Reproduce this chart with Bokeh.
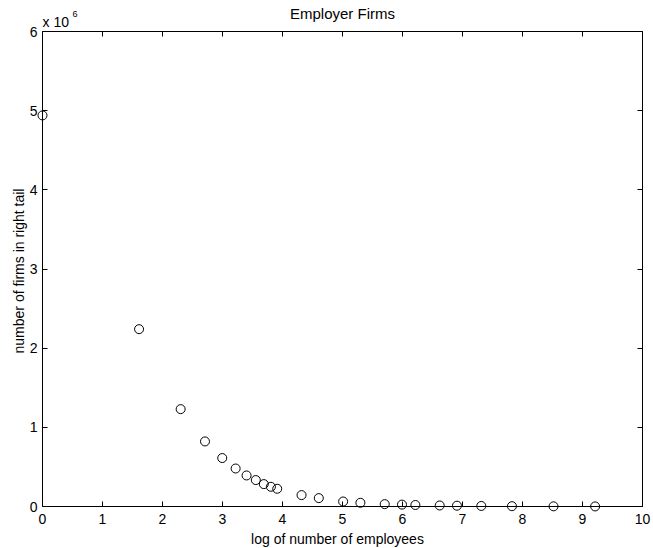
import numpy as np
from bokeh.plotting import figure
from bokeh.models import (LinearAxis, FixedTicker, CustomJSTickFormatter, Label,
                          ColumnDataSource, Range1d)
from bokeh.embed import file_html
from bokeh.resources import INLINE

# Employee-size thresholds of the right tail, and the number of employer
# firms with at least that many employees
employee_thresholds = [1, 5, 10, 15, 20, 25, 30, 35, 40, 45, 50, 75, 100,
                       150, 200, 300, 400, 500, 750, 1000, 1500, 2500, 5000, 10000]
firms_in_tail = [4.94e6, 2.24e6, 1.23e6, 0.822e6, 0.612e6, 0.480e6, 0.392e6,
                 0.334e6, 0.283e6, 0.249e6, 0.224e6, 0.144e6, 0.106e6, 0.063e6,
                 0.047e6, 0.030e6, 0.024e6, 0.019e6, 0.013e6, 0.010e6, 0.007e6,
                 0.004e6, 0.002e6, 0.001e6]
x_ticks = [0, 1, 2, 3, 4, 5, 6, 7, 8, 9, 10]
y_ticks = [0, 1e6, 2e6, 3e6, 4e6, 5e6, 6e6]
X_LIM = (0, 10)
Y_LIM = (0, 6e6)

FONT = "Liberation Sans"
W, H = 653, 548
# pixel box of the axes inside the page; the plotting frame covers the whole
# page so that markers on the box edge and all texts are drawn unclipped
BOX_LEFT, BOX_RIGHT, BOX_TOP, BOX_BOTTOM = 42, 642, 31, 506
ux = (X_LIM[1] - X_LIM[0]) / (BOX_RIGHT - BOX_LEFT)
uy = (Y_LIM[1] - Y_LIM[0]) / (BOX_BOTTOM - BOX_TOP)
x_range = Range1d(X_LIM[0] - BOX_LEFT * ux, X_LIM[1] + (W - BOX_RIGHT) * ux)
y_range = Range1d(Y_LIM[0] - (H - BOX_BOTTOM) * uy, Y_LIM[1] + BOX_TOP * uy)

source = ColumnDataSource(data=dict(
    logx=np.log(np.array(employee_thresholds, dtype=float)),
    firms=firms_in_tail,
))

p = figure(width=W, height=H, output_backend="svg", toolbar_location=None,
           x_range=x_range, y_range=y_range,
           min_border=0, min_border_left=0, min_border_right=0,
           min_border_top=0, min_border_bottom=0,
           x_axis_type=None, y_axis_type=None)
p.title.visible = False
p.grid.visible = False
p.outline_line_color = None
p.background_fill_color = "white"
p.border_fill_color = "white"

millions = CustomJSTickFormatter(code="return (tick / 1e6).toFixed(0);")
blank = CustomJSTickFormatter(code="return '';")


def make_axis(ticks, bounds, fixed, formatter=None, labelled=True):
    ax = LinearAxis(ticker=FixedTicker(ticks=ticks), bounds=bounds,
                    fixed_location=fixed)
    if formatter is not None:
        ax.formatter = formatter
    ax.axis_line_color = "black"
    ax.axis_line_width = 1
    ax.major_tick_line_color = "black"
    ax.major_tick_in = 5
    ax.major_tick_out = 0
    ax.minor_tick_line_color = None
    if labelled:
        ax.major_label_text_font = FONT
        ax.major_label_text_font_size = "14px"
        ax.major_label_text_color = "black"
    else:
        ax.major_label_text_font_size = "0px"
        ax.major_label_standoff = 0
    return ax


xb = make_axis(x_ticks, X_LIM, Y_LIM[0])
xb.major_label_standoff = 7
p.add_layout(xb, "below")

yl = make_axis(y_ticks, Y_LIM, X_LIM[0], formatter=millions)
yl.major_label_standoff = 5
p.add_layout(yl, "left")

xt = make_axis(x_ticks, X_LIM, Y_LIM[1], formatter=blank, labelled=False)
p.add_layout(xt, "above")

yr = make_axis(y_ticks, Y_LIM, X_LIM[1], formatter=blank, labelled=False)
p.add_layout(yr, "right")

p.scatter("logx", "firms", source=source, marker="circle", size=9,
          fill_color=None, line_color="black", line_width=1)

x_mid = (X_LIM[0] + X_LIM[1]) / 2
y_mid = (Y_LIM[0] + Y_LIM[1]) / 2


def text_label(text, x, y, size, align="left", angle=0.0):
    # texts are anchored at their vertical middle
    return Label(x=x, y=y, text=text, angle=angle, text_font=FONT,
                 text_font_size=size, text_color="black",
                 text_align=align, text_baseline="middle")


# title above the box
p.add_layout(text_label("Employer Firms", x_mid, Y_LIM[1] + 18.5 * uy,
                        "15px", align="center"))
# axis titles
p.add_layout(text_label("log of number of employees", x_mid - 5 * ux,
                        Y_LIM[0] - 32 * uy, "14px", align="center"))
p.add_layout(text_label("number of firms in right tail", X_LIM[0] - 23.5 * ux,
                        y_mid - 2 * uy, "14px", align="center", angle=np.pi / 2))
# axis multiplier at the top left of the box
p.add_layout(text_label("x 10", X_LIM[0], Y_LIM[1] + 9.5 * uy, "14px"))
p.add_layout(text_label("6", X_LIM[0] + 30 * ux, Y_LIM[1] + 17.5 * uy, "9px"))

open("out.html", "w").write(file_html(p, INLINE))
